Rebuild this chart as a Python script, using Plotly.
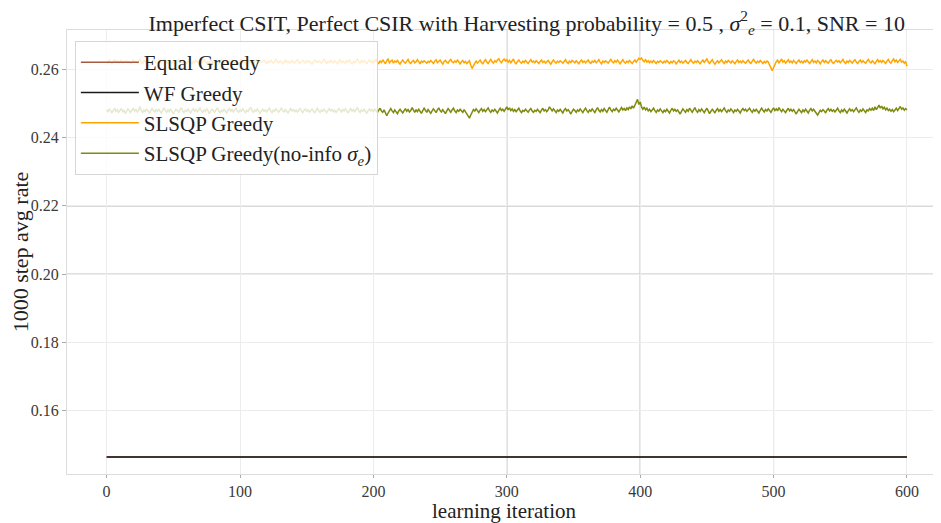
import plotly.graph_objects as go

iterations = list(range(601))

slsqp_greedy = [
    0.2624, 0.2619, 0.2627, 0.2621, 0.2616, 0.2623, 0.2629, 0.2620, 0.2625, 0.2618, 0.2622, 0.2628, 0.2617, 0.2624, 0.2621, 0.2626, 0.2619, 0.2623, 0.2615, 0.2622,
    0.2627, 0.2620, 0.2624, 0.2618, 0.2623, 0.2630, 0.2621, 0.2617, 0.2625, 0.2622, 0.2619, 0.2626, 0.2623, 0.2616, 0.2621, 0.2628, 0.2624, 0.2619, 0.2622, 0.2627,
    0.2621, 0.2618, 0.2625, 0.2629, 0.2620, 0.2623, 0.2617, 0.2624, 0.2622, 0.2618, 0.2626, 0.2621, 0.2614, 0.2622, 0.2627, 0.2620, 0.2624, 0.2619, 0.2625, 0.2622,
    0.2618, 0.2623, 0.2628, 0.2621, 0.2616, 0.2624, 0.2620, 0.2626, 0.2622, 0.2619, 0.2623, 0.2617, 0.2625, 0.2629, 0.2621, 0.2618, 0.2624, 0.2620, 0.2627, 0.2623,
    0.2619, 0.2622, 0.2626, 0.2620, 0.2615, 0.2623, 0.2628, 0.2621, 0.2618, 0.2625, 0.2622, 0.2616, 0.2624, 0.2620, 0.2627, 0.2623, 0.2619, 0.2625, 0.2621, 0.2618,
    0.2624, 0.2629, 0.2620, 0.2623, 0.2617, 0.2622, 0.2626, 0.2619, 0.2624, 0.2621, 0.2616, 0.2623, 0.2628, 0.2622, 0.2618, 0.2625, 0.2620, 0.2624, 0.2627, 0.2621,
    0.2617, 0.2623, 0.2620, 0.2626, 0.2622, 0.2618, 0.2624, 0.2630, 0.2621, 0.2619, 0.2625, 0.2622, 0.2616, 0.2623, 0.2627, 0.2620, 0.2624, 0.2618, 0.2622, 0.2626,
    0.2621, 0.2619, 0.2624, 0.2628, 0.2620, 0.2617, 0.2623, 0.2626, 0.2622, 0.2618, 0.2625, 0.2621, 0.2624, 0.2619, 0.2615, 0.2622, 0.2627, 0.2623, 0.2620, 0.2625,
    0.2622, 0.2618, 0.2624, 0.2629, 0.2621, 0.2617, 0.2623, 0.2620, 0.2626, 0.2622, 0.2619, 0.2625, 0.2621, 0.2616, 0.2623, 0.2628, 0.2620, 0.2624, 0.2621, 0.2618,
    0.2625, 0.2622, 0.2627, 0.2620, 0.2616, 0.2623, 0.2619, 0.2624, 0.2630, 0.2622, 0.2618, 0.2625, 0.2621, 0.2626, 0.2620, 0.2617, 0.2623, 0.2627, 0.2621, 0.2624,
    0.2619, 0.2626, 0.2629, 0.2621, 0.2617, 0.2624, 0.2620, 0.2628, 0.2622, 0.2616, 0.2625, 0.2631, 0.2619, 0.2623, 0.2627, 0.2618, 0.2624, 0.2621, 0.2626, 0.2620,
    0.2615, 0.2622, 0.2627, 0.2621, 0.2618, 0.2624, 0.2629, 0.2620, 0.2617, 0.2623, 0.2626, 0.2619, 0.2622, 0.2628, 0.2621, 0.2616, 0.2624, 0.2620, 0.2625, 0.2622,
    0.2618, 0.2623, 0.2620, 0.2626, 0.2621, 0.2617, 0.2624, 0.2628, 0.2619, 0.2622, 0.2627, 0.2620, 0.2615, 0.2623, 0.2626, 0.2621, 0.2618, 0.2625, 0.2629, 0.2622,
    0.2619, 0.2624, 0.2621, 0.2627, 0.2620, 0.2616, 0.2622, 0.2626, 0.2619, 0.2623, 0.2617, 0.2621, 0.2625, 0.2612, 0.2602, 0.2611, 0.2620, 0.2624, 0.2618, 0.2622,
    0.2627, 0.2620, 0.2616, 0.2623, 0.2628, 0.2621, 0.2617, 0.2624, 0.2629, 0.2622, 0.2618, 0.2625, 0.2621, 0.2627, 0.2631, 0.2623, 0.2619, 0.2626, 0.2630, 0.2624,
    0.2628, 0.2621, 0.2626, 0.2619, 0.2625, 0.2630, 0.2620, 0.2616, 0.2623, 0.2627, 0.2621, 0.2618, 0.2624, 0.2620, 0.2626, 0.2622, 0.2617, 0.2623, 0.2628, 0.2621,
    0.2624, 0.2619, 0.2625, 0.2621, 0.2617, 0.2623, 0.2627, 0.2620, 0.2624, 0.2618, 0.2622, 0.2626, 0.2620, 0.2615, 0.2622, 0.2627, 0.2621, 0.2618, 0.2624, 0.2620,
    0.2625, 0.2622, 0.2618, 0.2623, 0.2628, 0.2621, 0.2617, 0.2624, 0.2620, 0.2626, 0.2622, 0.2619, 0.2625, 0.2621, 0.2616, 0.2623, 0.2627, 0.2620, 0.2624, 0.2619,
    0.2622, 0.2627, 0.2620, 0.2617, 0.2624, 0.2621, 0.2626, 0.2619, 0.2623, 0.2628, 0.2621, 0.2616, 0.2624, 0.2620, 0.2625, 0.2622, 0.2618, 0.2624, 0.2629, 0.2622,
    0.2619, 0.2625, 0.2621, 0.2627, 0.2620, 0.2616, 0.2623, 0.2628, 0.2621, 0.2618, 0.2624, 0.2620, 0.2626, 0.2622, 0.2617, 0.2623, 0.2627, 0.2621, 0.2625, 0.2632,
    0.2629, 0.2633, 0.2626, 0.2622, 0.2628, 0.2621, 0.2625, 0.2619, 0.2624, 0.2620, 0.2626, 0.2622, 0.2617, 0.2623, 0.2620, 0.2625, 0.2621, 0.2618, 0.2624, 0.2620,
    0.2626, 0.2621, 0.2617, 0.2623, 0.2619, 0.2625, 0.2622, 0.2616, 0.2621, 0.2627, 0.2620, 0.2624, 0.2618, 0.2622, 0.2626, 0.2620, 0.2617, 0.2623, 0.2628, 0.2621,
    0.2618, 0.2624, 0.2620, 0.2625, 0.2621, 0.2616, 0.2623, 0.2627, 0.2620, 0.2624, 0.2630, 0.2622, 0.2617, 0.2623, 0.2628, 0.2620, 0.2615, 0.2621, 0.2625, 0.2619,
    0.2623, 0.2628, 0.2621, 0.2617, 0.2624, 0.2620, 0.2626, 0.2622, 0.2618, 0.2625, 0.2621, 0.2616, 0.2623, 0.2627, 0.2620, 0.2624, 0.2619, 0.2625, 0.2621, 0.2618,
    0.2623, 0.2627, 0.2620, 0.2617, 0.2624, 0.2629, 0.2622, 0.2618, 0.2624, 0.2620, 0.2626, 0.2621, 0.2617, 0.2623, 0.2619, 0.2624, 0.2621, 0.2612, 0.2603, 0.2596,
    0.2605, 0.2616, 0.2622, 0.2627, 0.2619, 0.2624, 0.2630, 0.2621, 0.2625, 0.2618, 0.2623, 0.2628, 0.2620, 0.2624, 0.2619, 0.2626, 0.2621, 0.2617, 0.2623, 0.2627,
    0.2620, 0.2624, 0.2618, 0.2625, 0.2621, 0.2627, 0.2622, 0.2617, 0.2623, 0.2628, 0.2620, 0.2624, 0.2619, 0.2626, 0.2622, 0.2616, 0.2623, 0.2627, 0.2620, 0.2625,
    0.2621, 0.2618, 0.2624, 0.2628, 0.2620, 0.2617, 0.2623, 0.2626, 0.2621, 0.2625, 0.2619, 0.2623, 0.2629, 0.2621, 0.2617, 0.2624, 0.2620, 0.2626, 0.2622, 0.2618,
    0.2624, 0.2628, 0.2621, 0.2617, 0.2623, 0.2627, 0.2620, 0.2625, 0.2621, 0.2618, 0.2624, 0.2629, 0.2622, 0.2619, 0.2625, 0.2621, 0.2616, 0.2623, 0.2628, 0.2621,
    0.2625, 0.2620, 0.2626, 0.2622, 0.2617, 0.2624, 0.2629, 0.2621, 0.2618, 0.2625, 0.2630, 0.2622, 0.2627, 0.2620, 0.2625, 0.2629, 0.2621, 0.2624, 0.2618, 0.2623,
    0.2609,
]

slsqp_greedy_noinfo = [
    0.2481, 0.2475, 0.2484, 0.2478, 0.2472, 0.2480, 0.2486, 0.2477, 0.2482, 0.2474, 0.2479, 0.2485, 0.2476, 0.2481, 0.2470, 0.2478, 0.2484, 0.2479, 0.2473, 0.2480,
    0.2486, 0.2477, 0.2482, 0.2475, 0.2480, 0.2491, 0.2478, 0.2473, 0.2481, 0.2476, 0.2483, 0.2479, 0.2471, 0.2478, 0.2485, 0.2480, 0.2474, 0.2482, 0.2477, 0.2483,
    0.2478, 0.2472, 0.2480, 0.2487, 0.2479, 0.2474, 0.2481, 0.2476, 0.2484, 0.2478, 0.2469, 0.2477, 0.2483, 0.2479, 0.2474, 0.2481, 0.2488, 0.2478, 0.2473, 0.2480,
    0.2476, 0.2483, 0.2479, 0.2472, 0.2480, 0.2485, 0.2477, 0.2482, 0.2475, 0.2479, 0.2486, 0.2478, 0.2473, 0.2481, 0.2477, 0.2484, 0.2479, 0.2470, 0.2478, 0.2483,
    0.2479, 0.2474, 0.2481, 0.2487, 0.2478, 0.2473, 0.2480, 0.2476, 0.2483, 0.2479, 0.2472, 0.2480, 0.2485, 0.2477, 0.2482, 0.2475, 0.2480, 0.2486, 0.2478, 0.2474,
    0.2481, 0.2477, 0.2484, 0.2479, 0.2473, 0.2480, 0.2476, 0.2483, 0.2489, 0.2479, 0.2474, 0.2481, 0.2477, 0.2484, 0.2479, 0.2471, 0.2478, 0.2483, 0.2477, 0.2481,
    0.2475, 0.2480, 0.2486, 0.2478, 0.2473, 0.2481, 0.2477, 0.2484, 0.2479, 0.2474, 0.2480, 0.2487, 0.2479, 0.2475, 0.2482, 0.2477, 0.2472, 0.2479, 0.2485, 0.2478,
    0.2482, 0.2476, 0.2481, 0.2475, 0.2479, 0.2485, 0.2478, 0.2473, 0.2480, 0.2484, 0.2477, 0.2481, 0.2475, 0.2479, 0.2483, 0.2478, 0.2472, 0.2480, 0.2486, 0.2479,
    0.2474, 0.2481, 0.2477, 0.2483, 0.2479, 0.2473, 0.2480, 0.2485, 0.2478, 0.2482, 0.2476, 0.2480, 0.2474, 0.2479, 0.2485, 0.2481, 0.2475, 0.2482, 0.2478, 0.2484,
    0.2479, 0.2472, 0.2480, 0.2486, 0.2477, 0.2482, 0.2476, 0.2481, 0.2488, 0.2479, 0.2474, 0.2481, 0.2477, 0.2483, 0.2478, 0.2471, 0.2479, 0.2484, 0.2478, 0.2482,
    0.2476, 0.2483, 0.2479, 0.2473, 0.2480, 0.2486, 0.2478, 0.2474, 0.2481, 0.2469, 0.2464, 0.2472, 0.2479, 0.2485, 0.2478, 0.2473, 0.2481, 0.2476, 0.2470, 0.2478,
    0.2483, 0.2477, 0.2472, 0.2479, 0.2485, 0.2477, 0.2482, 0.2475, 0.2479, 0.2488, 0.2480, 0.2474, 0.2481, 0.2476, 0.2483, 0.2478, 0.2471, 0.2479, 0.2486, 0.2480,
    0.2474, 0.2482, 0.2477, 0.2471, 0.2478, 0.2484, 0.2479, 0.2473, 0.2481, 0.2487, 0.2479, 0.2475, 0.2482, 0.2477, 0.2470, 0.2478, 0.2485, 0.2480, 0.2474, 0.2481,
    0.2486, 0.2478, 0.2473, 0.2481, 0.2477, 0.2483, 0.2479, 0.2474, 0.2482, 0.2476, 0.2469, 0.2462, 0.2457, 0.2466, 0.2476, 0.2482, 0.2478, 0.2484, 0.2479, 0.2473,
    0.2480, 0.2485, 0.2477, 0.2482, 0.2476, 0.2481, 0.2487, 0.2479, 0.2474, 0.2481, 0.2477, 0.2483, 0.2478, 0.2472, 0.2480, 0.2486, 0.2479, 0.2483, 0.2477, 0.2484,
    0.2490, 0.2481, 0.2487, 0.2479, 0.2484, 0.2477, 0.2482, 0.2476, 0.2481, 0.2486, 0.2478, 0.2473, 0.2480, 0.2477, 0.2483, 0.2479, 0.2474, 0.2481, 0.2485, 0.2478,
    0.2474, 0.2480, 0.2477, 0.2483, 0.2479, 0.2473, 0.2480, 0.2486, 0.2478, 0.2482, 0.2476, 0.2481, 0.2490, 0.2483, 0.2478, 0.2484, 0.2479, 0.2473, 0.2481, 0.2477,
    0.2483, 0.2478, 0.2472, 0.2480, 0.2485, 0.2478, 0.2482, 0.2476, 0.2469, 0.2477, 0.2483, 0.2479, 0.2474, 0.2481, 0.2477, 0.2484, 0.2479, 0.2473, 0.2480, 0.2486,
    0.2479, 0.2474, 0.2481, 0.2477, 0.2484, 0.2479, 0.2473, 0.2481, 0.2488, 0.2480, 0.2475, 0.2482, 0.2477, 0.2485, 0.2480, 0.2474, 0.2482, 0.2489, 0.2481, 0.2476,
    0.2483, 0.2479, 0.2486, 0.2480, 0.2475, 0.2482, 0.2488, 0.2481, 0.2485, 0.2479, 0.2487, 0.2482, 0.2490, 0.2484, 0.2493, 0.2486, 0.2495, 0.2500, 0.2512, 0.2497,
    0.2504, 0.2490, 0.2483, 0.2489, 0.2481, 0.2486, 0.2478, 0.2483, 0.2476, 0.2481, 0.2486, 0.2479, 0.2474, 0.2481, 0.2477, 0.2484, 0.2479, 0.2473, 0.2480, 0.2476,
    0.2483, 0.2478, 0.2472, 0.2480, 0.2486, 0.2478, 0.2483, 0.2477, 0.2481, 0.2475, 0.2469, 0.2477, 0.2484, 0.2479, 0.2474, 0.2482, 0.2477, 0.2486, 0.2480, 0.2474,
    0.2481, 0.2488, 0.2479, 0.2474, 0.2482, 0.2477, 0.2484, 0.2479, 0.2473, 0.2480, 0.2486, 0.2478, 0.2470, 0.2477, 0.2483, 0.2478, 0.2472, 0.2480, 0.2485, 0.2477,
    0.2482, 0.2476, 0.2481, 0.2487, 0.2479, 0.2474, 0.2481, 0.2477, 0.2484, 0.2479, 0.2473, 0.2481, 0.2477, 0.2483, 0.2478, 0.2472, 0.2480, 0.2485, 0.2479, 0.2483,
    0.2477, 0.2481, 0.2486, 0.2479, 0.2474, 0.2482, 0.2477, 0.2483, 0.2478, 0.2472, 0.2480, 0.2486, 0.2480, 0.2475, 0.2482, 0.2478, 0.2484, 0.2479, 0.2474, 0.2481,
    0.2487, 0.2479, 0.2484, 0.2478, 0.2488, 0.2481, 0.2476, 0.2483, 0.2479, 0.2473, 0.2480, 0.2486, 0.2478, 0.2483, 0.2477, 0.2482, 0.2475, 0.2469, 0.2477, 0.2483,
    0.2478, 0.2473, 0.2481, 0.2476, 0.2483, 0.2479, 0.2472, 0.2480, 0.2485, 0.2478, 0.2483, 0.2477, 0.2470, 0.2466, 0.2473, 0.2480, 0.2476, 0.2482, 0.2478, 0.2472,
    0.2480, 0.2485, 0.2478, 0.2483, 0.2477, 0.2481, 0.2475, 0.2480, 0.2486, 0.2478, 0.2473, 0.2481, 0.2476, 0.2483, 0.2478, 0.2472, 0.2479, 0.2484, 0.2478, 0.2482,
    0.2476, 0.2481, 0.2487, 0.2479, 0.2474, 0.2481, 0.2477, 0.2484, 0.2479, 0.2473, 0.2481, 0.2478, 0.2485, 0.2480, 0.2486, 0.2479, 0.2490, 0.2482, 0.2488, 0.2495,
    0.2486, 0.2492, 0.2484, 0.2489, 0.2481, 0.2486, 0.2479, 0.2483, 0.2477, 0.2482, 0.2476, 0.2481, 0.2486, 0.2479, 0.2484, 0.2491, 0.2483, 0.2487, 0.2480, 0.2485,
    0.2481,
]

# flat baselines (constant over all iterations)
flat_x = [0, 600]
equal_greedy = [0.1465, 0.1465]
wf_greedy = [0.1465, 0.1465]

x_ticks = [0, 100, 200, 300, 400, 500, 600]
y_ticks = [0.16, 0.18, 0.20, 0.22, 0.24, 0.26]
y_tick_labels = ["0.16", "0.18", "0.20", "0.22", "0.24", "0.26"]
dark_x_grid = [300, 400, 500]
dark_y_grid = [0.18, 0.20, 0.22]

FONT = "Times New Roman, Liberation Serif, DejaVu Serif, serif"

fig = go.Figure()
fig.add_trace(go.Scatter(x=flat_x, y=equal_greedy, mode="lines", name="Equal Greedy",
                         line=dict(color="#a65a42", width=1.5)))
fig.add_trace(go.Scatter(x=flat_x, y=wf_greedy, mode="lines", name="WF Greedy",
                         line=dict(color="#1a1a1a", width=1.5)))
fig.add_trace(go.Scatter(x=iterations, y=slsqp_greedy, mode="lines", name="SLSQP Greedy",
                         line=dict(color="#ffa500", width=1.5)))
fig.add_trace(go.Scatter(x=iterations, y=slsqp_greedy_noinfo, mode="lines",
                         name="SLSQP Greedy(no-info <i>σ</i><sub><i>e</i></sub>)",
                         line=dict(color="#7d8a0e", width=1.5)))

shapes = []
for xv in dark_x_grid:
    shapes.append(dict(type="line", xref="x", yref="paper", x0=xv, x1=xv, y0=0, y1=1,
                       line=dict(color="#9c9c9c", width=1), layer="below"))
for yv in dark_y_grid:
    shapes.append(dict(type="line", xref="paper", yref="y", x0=0, x1=1, y0=yv, y1=yv,
                       line=dict(color="#9c9c9c", width=1), layer="below"))

# the page body adds an 8px offset, so the figure is 8px smaller than the window
fig.update_layout(
    width=933, height=515,
    margin=dict(l=59, r=0, t=22, b=49),
    paper_bgcolor="white", plot_bgcolor="white",
    font=dict(family=FONT, color="#333333"),
    title=dict(
        text="Imperfect CSIT, Perfect CSIR with Harvesting probability = 0.5 , <i>σ</i><sup>2</sup><sub><i>e</i></sub> = 0.1, SNR = 10",
        x=0.556, xref="container", xanchor="center", y=0.971, yref="container", yanchor="middle",
        font=dict(family=FONT, size=22, color="#222222"),
    ),
    showlegend=True,
    legend=dict(
        x=0.009, y=0.975, xanchor="left", yanchor="top",
        bgcolor="rgba(255,255,255,0.8)", bordercolor="#d6d6d6", borderwidth=1,
        font=dict(family=FONT, size=21, color="#222222"),
        tracegroupgap=0, itemwidth=58,
    ),
    shapes=shapes,
)

fig.update_xaxes(
    range=[-29.7, 625.5], tickvals=x_ticks, ticks="outside", ticklen=3, tickcolor="#aaaaaa",
    showgrid=True, gridcolor="#ececec", gridwidth=1, zeroline=False,
    showline=True, linecolor="#dcdcdc", linewidth=1, mirror=True,
    tickfont=dict(family=FONT, size=16, color="#3a3a3a"),
    title=dict(text="learning iteration", font=dict(family=FONT, size=21, color="#222222"), standoff=0),
)
fig.update_yaxes(
    range=[0.1415, 0.2715], tickvals=y_ticks, ticktext=y_tick_labels, ticks="outside", ticklen=4,
    tickcolor="#aaaaaa",
    showgrid=True, gridcolor="#ececec", gridwidth=1, zeroline=False,
    showline=True, linecolor="#dcdcdc", linewidth=1, mirror=True,
    tickfont=dict(family=FONT, size=16, color="#3a3a3a"),
    title=dict(text="1000 step avg rate", font=dict(family=FONT, size=22, color="#222222"), standoff=6),
)

fig.write_html("out.html")
